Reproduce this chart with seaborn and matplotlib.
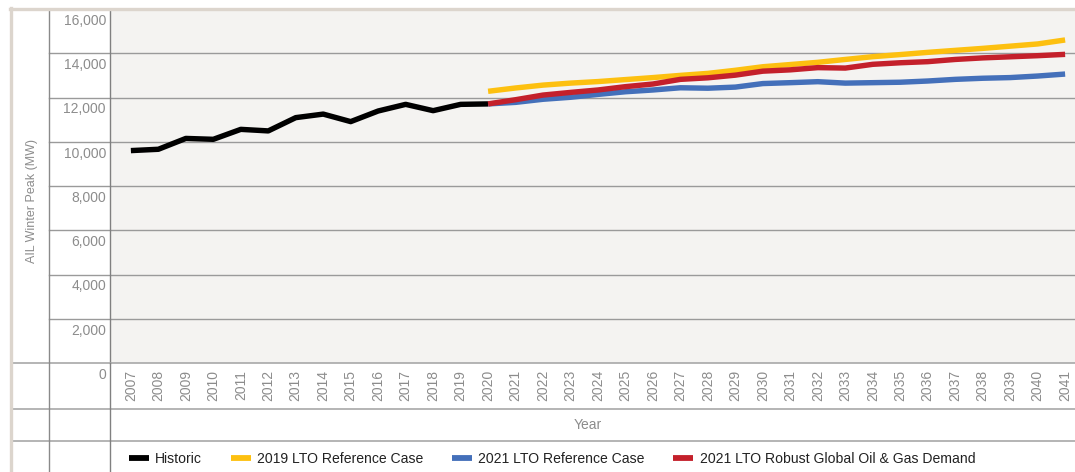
import matplotlib
matplotlib.use("Agg")
import matplotlib.pyplot as plt
from matplotlib.lines import Line2D
from matplotlib import transforms
import seaborn as sns
import pandas as pd

# ---------------- data ----------------
years_hist = [2007, 2008, 2009, 2010, 2011, 2012, 2013, 2014, 2015, 2016, 2017, 2018, 2019, 2020]
historic = [9600, 9660, 10150, 10110, 10560, 10490, 11090, 11250, 10910, 11390, 11690, 11405, 11690, 11710]

years_fc = [2020, 2021, 2022, 2023, 2024, 2025, 2026, 2027, 2028, 2029, 2030,
            2031, 2032, 2033, 2034, 2035, 2036, 2037, 2038, 2039, 2040, 2041]
lto2019_ref = [12280, 12430, 12560, 12650, 12720, 12810, 12900, 13000, 13090, 13230, 13390,
               13490, 13590, 13720, 13845, 13940, 14040, 14130, 14220, 14320, 14420, 14600]
lto2021_ref = [11710, 11780, 11920, 12010, 12140, 12260, 12340, 12440, 12420, 12470, 12630,
               12670, 12715, 12650, 12670, 12690, 12745, 12820, 12870, 12900, 12970, 13060]
lto2021_robust = [11710, 11900, 12110, 12230, 12340, 12490, 12610, 12820, 12890, 13010, 13190,
                  13250, 13350, 13330, 13500, 13570, 13620, 13720, 13790, 13840, 13890, 13950]

series_names = ["Historic", "2019 LTO Reference Case", "2021 LTO Reference Case",
                "2021 LTO Robust Global Oil & Gas Demand"]
series_colors = ["#000000", "#FDC010", "#4470BA", "#C4202B"]

year_ticks = list(range(2007, 2042))
y_ticks = [0, 2000, 4000, 6000, 8000, 10000, 12000, 14000, 16000]
y_tick_labels = ["0", "2,000", "4,000", "6,000", "8,000", "10,000", "12,000", "14,000", "16,000"]
x_title = "Year"
y_title = "AIL Winter Peak (MW)"

frames = [
    pd.DataFrame({"year": years_hist, "value": historic, "series": series_names[0]}),
    pd.DataFrame({"year": years_fc, "value": lto2019_ref, "series": series_names[1]}),
    pd.DataFrame({"year": years_fc, "value": lto2021_ref, "series": series_names[2]}),
    pd.DataFrame({"year": years_fc, "value": lto2021_robust, "series": series_names[3]}),
]
df = pd.concat(frames, ignore_index=True)

# ---------------- layout ----------------
W, H = 1075, 472
plt.rcParams["font.family"] = ["Liberation Sans", "DejaVu Sans"]
fig = plt.figure(figsize=(W / 100, H / 100), dpi=100)
fig.patch.set_facecolor("white")

def fx(px):
    return px / W

def fy(py):
    return 1 - py / H

ax_left, ax_right, ax_top, ax_bot = 110, 1075, 9, 363
ax = fig.add_axes([fx(ax_left), fy(ax_bot), fx(ax_right) - fx(ax_left), fy(ax_top) - fy(ax_bot)])
ax.set_facecolor("#F4F3F1")

sns.lineplot(data=df, x="year", y="value", hue="series", hue_order=series_names,
             palette=dict(zip(series_names, series_colors)), linewidth=3.9,
             ax=ax, legend=False, sort=True)
for ln in ax.get_lines():
    ln.set_solid_capstyle("butt")
    ln.set_solid_joinstyle("round")

ax.set_ylim(0, 16000)
ax.set_xlim(2006.24, 2041.36)
ax.set_yticks(y_ticks)
ax.set_yticklabels([])
ax.tick_params(axis="y", length=0)
ax.set_xticks(year_ticks)
ax.set_xticklabels([str(y) for y in year_ticks], rotation=90, fontsize=10, color="#8C8C8C", va="top")
ax.tick_params(axis="x", length=0, pad=5)
ax.set_xlabel("")
ax.set_ylabel("")
ax.grid(False)
for s in ["top", "right", "bottom"]:
    ax.spines[s].set_visible(False)
ax.spines["left"].set_color("#808080")
ax.spines["left"].set_linewidth(1.0)

# horizontal gridlines extending into the label column
blend = transforms.blended_transform_factory(fig.transFigure, ax.transData)
for v in y_ticks[1:]:
    ax.add_line(Line2D([fx(49), fx(1075)], [v, v], transform=blend, color="#9A9A9A",
                       lw=1.0, clip_on=False, zorder=0.5))
# y tick labels (table-like, under each gridline)
off = transforms.ScaledTranslation(0, -3.5 / 72, fig.dpi_scale_trans)
for v, lab in zip(y_ticks, y_tick_labels):
    ax.text(fx(106), v, lab, transform=blend + off, ha="right", va="top",
            fontsize=10, color="#8C8C8C", clip_on=False)

# table lines in figure coordinates
def hline(py, x0, x1, color="#A8A8A8", lw=1.2):
    fig.add_artist(Line2D([fx(x0), fx(x1)], [fy(py), fy(py)], color=color, lw=lw))

def vline(px, y0, y1, color="#8A8A8A", lw=1.0):
    fig.add_artist(Line2D([fx(px), fx(px)], [fy(y0), fy(y1)], color=color, lw=lw))

hline(363, 12, 1075)
hline(409, 12, 1075)
hline(441, 12, 1075)
vline(49, 9, 472)
vline(110, 363, 472, color="#808080")
# beige outer border (top and left)
fig.add_artist(Line2D([fx(10), fx(1075)], [fy(8.5), fy(8.5)], color="#DCD5CD", lw=2.4))
fig.add_artist(Line2D([fx(11.3), fx(11.3)], [fy(7.5), fy(472)], color="#DCD5CD", lw=2.4))

# axis titles
fig.text(fx(588), fy(425), x_title, ha="center", va="center", fontsize=10, color="#8C8C8C")
fig.text(fx(32), fy(201), y_title, ha="center", va="center", rotation=90,
         fontsize=9, color="#8C8C8C")

# legend
handles = [Line2D([], [], color=c, lw=4.2, solid_capstyle="butt") for c in series_colors]
fig.legend(handles, series_names, loc="center left", bbox_to_anchor=(fx(129), fy(459)),
           ncol=4, frameon=False, fontsize=10.1, handlelength=1.42, handletextpad=0.45,
           columnspacing=2.05, borderpad=0, borderaxespad=0, labelcolor="#222222")

fig.savefig("out.png", dpi=100, facecolor="white")
